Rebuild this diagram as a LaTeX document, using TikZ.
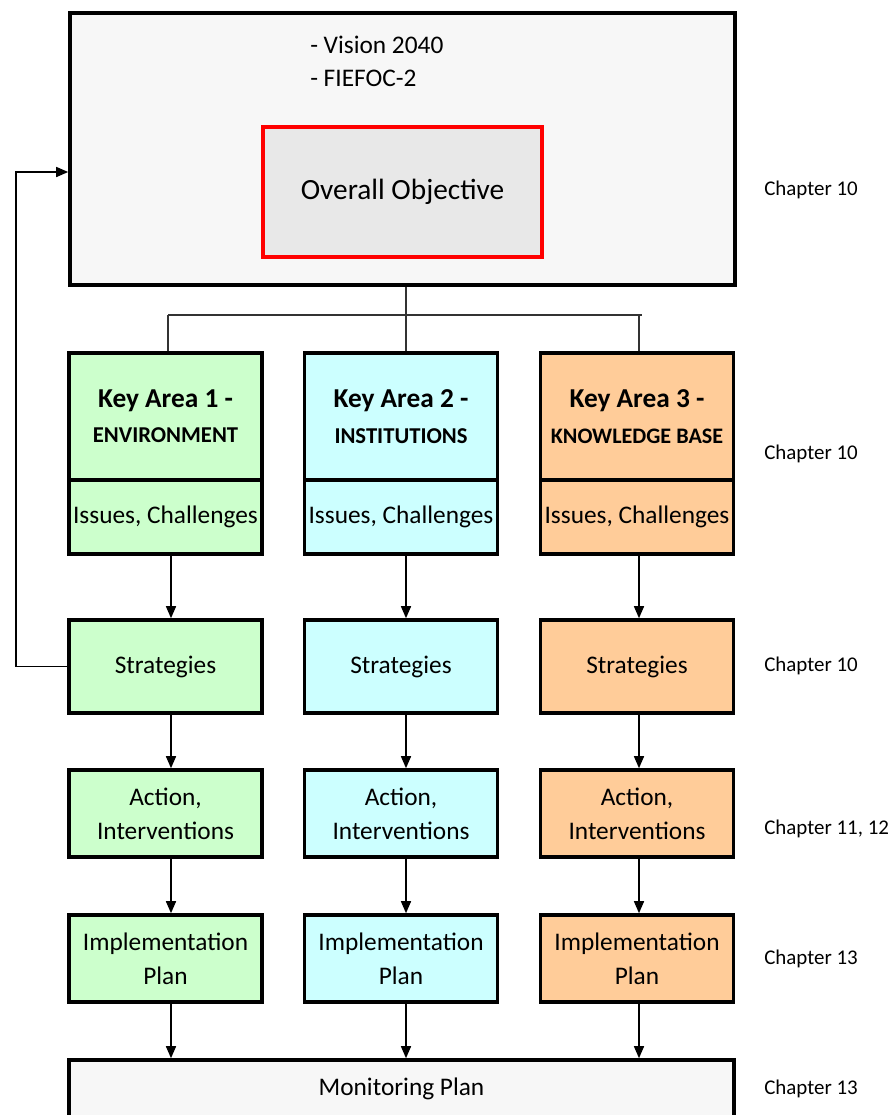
\documentclass[tikz,border=0pt]{standalone}
\usepackage{fontspec}
\setmainfont{Carlito}
\usetikzlibrary{arrows.meta}
\definecolor{kgreen}{HTML}{CCFFCC}
\definecolor{kcyan}{HTML}{CCFFFF}
\definecolor{korange}{HTML}{FFCC99}
\definecolor{pale}{HTML}{F7F7F7}
\definecolor{redfill}{HTML}{E8E8E8}
\definecolor{linegray}{HTML}{333333}
\begin{document}
\begin{tikzpicture}[x=0.75pt,y=-0.75pt,
  box/.style={draw=black, line width=2.7pt, inner sep=0pt, minimum width=193*0.75pt, align=center, font=\fontsize{19}{25.5}\selectfont},
  hdr/.style={box, minimum height=127*0.75pt},
  iss/.style={box, minimum height=74*0.75pt},
  row/.style={box, minimum height=87*0.75pt},
  chap/.style={anchor=west, inner sep=0pt, font=\fontsize{15.7}{18}\selectfont},
  arr/.style={line width=1.1pt, -{Triangle[length=9pt,width=7.5pt]}},
  thin/.style={draw=linegray, line width=1pt}
]
\useasboundingbox (0,0) rectangle (893,1115);

% top box
\node[draw=black, line width=2.7pt, fill=pale, minimum width=665*0.75pt, minimum height=272*0.75pt, inner sep=0pt] (top) at (402.5,149) {};
\node[anchor=west, inner sep=0pt, font=\fontsize{19}{25}\selectfont] (v1) at (310,45) {- Vision 2040};
\node[anchor=west, inner sep=0pt, font=\fontsize{19}{25}\selectfont] (v2) at (310,78) {- FIEFOC-2};
\node[draw=red, fill=redfill, line width=2.7pt, minimum width=279*0.75pt, minimum height=130*0.75pt, inner sep=0pt, font=\fontsize{22}{26}\selectfont] (obj) at (402.5,192) {Overall Objective};

% key areas
\node[hdr, fill=kgreen] (k1) at (165.5,416.5) {\bfseries\fontsize{20.5}{24}\selectfont Key Area 1 -\\[1pt]\bfseries\fontsize{17}{24}\selectfont ENVIRONMENT};
\node[hdr, fill=kcyan] (k2) at (401,416.5) {\bfseries\fontsize{20.5}{24}\selectfont Key Area 2 -\\[1pt]\bfseries\fontsize{17}{24}\selectfont INSTITUTIONS};
\node[hdr, fill=korange] (k3) at (637,416.5) {\bfseries\fontsize{20.5}{24}\selectfont Key Area 3 -\\[1pt]\bfseries\fontsize{16.6}{24}\selectfont KNOWLEDGE BASE};

\node[iss, fill=kgreen] (i1) at (165.5,517) {Issues, Challenges};
\node[iss, fill=kcyan] (i2) at (401,517) {Issues, Challenges};
\node[iss, fill=korange] (i3) at (637,517) {Issues, Challenges};

\node[box, minimum height=93*0.75pt, fill=kgreen] (s1) at (165.5,666.5) {Strategies};
\node[box, minimum height=93*0.75pt, fill=kcyan] (s2) at (401,666.5) {Strategies};
\node[box, minimum height=93*0.75pt, fill=korange] (s3) at (637,666.5) {Strategies};

\node[row, fill=kgreen] (a1) at (165.5,813.5) {Action,\\Interventions};
\node[row, fill=kcyan] (a2) at (401,813.5) {Action,\\Interventions};
\node[row, fill=korange] (a3) at (637,813.5) {Action,\\Interventions};

\node[row, fill=kgreen] (p1) at (165.5,958.5) {Implementation\\Plan};
\node[row, fill=kcyan] (p2) at (401,958.5) {Implementation\\Plan};
\node[row, fill=korange] (p3) at (637,958.5) {Implementation\\Plan};

\node[box, fill=pale, minimum width=665*0.75pt, minimum height=58*0.75pt] (mon) at (401.5,1089) {Monitoring Plan};

% chapter labels
\node[chap] (c1) at (764,190) {Chapter 10};
\node[chap] (c2) at (764,454) {Chapter 10};
\node[chap] (c3) at (764,666) {Chapter 10};
\node[chap] (c4) at (764,829) {Chapter 11, 12};
\node[chap] (c5) at (764,959) {Chapter 13};
\node[chap] (c6) at (764,1089) {Chapter 13};

% helper coordinates
\coordinate (ax1) at (171,0);
\coordinate (ax2) at (406,0);
\coordinate (ax3) at (639,0);
\coordinate (hy) at (0,315);
\coordinate (hl) at (168,0);
\coordinate (hr) at (642,0);
\coordinate (fbx) at (16,0);
\coordinate (fby) at (0,172);

% hierarchy lines
\draw[thin] (top.south -| ax2) -- (k2.north -| ax2);
\draw[thin] (hy -| hl) -- (hy -| hr);
\draw[thin] (hy -| hl) -- (k1.north -| hl);
\draw[thin] (hy -| ax3) -- (k3.north -| ax3);

% arrows
\foreach \c/\x in {1/ax1,2/ax2,3/ax3}{
  \draw[arr] (i\c.south -| \x) -- (s\c.north -| \x);
  \draw[arr] (s\c.south -| \x) -- (a\c.north -| \x);
  \draw[arr] (a\c.south -| \x) -- (p\c.north -| \x);
  \draw[arr] (p\c.south -| \x) -- (mon.north -| \x);
}

% feedback
\draw[arr] (s1.west) -- (s1.west -| fbx) |- (top.west |- fby);
\end{tikzpicture}
\end{document}
